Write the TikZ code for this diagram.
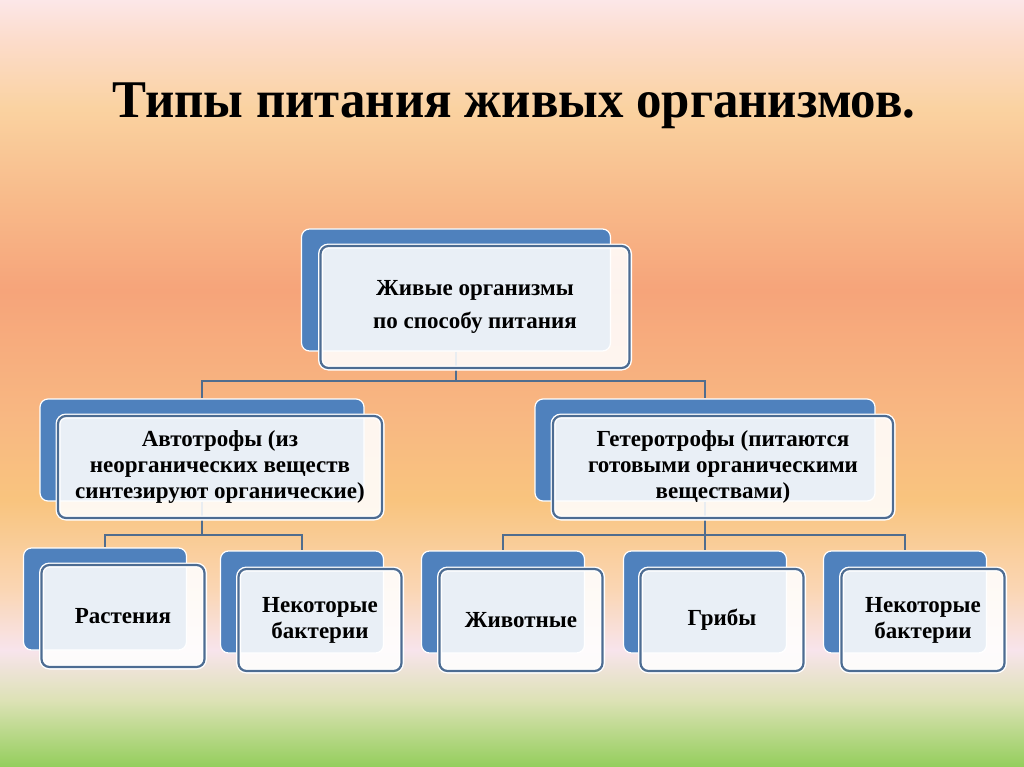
\documentclass[tikz,border=0pt]{standalone}
\usepackage{fontspec}
\setmainfont{Liberation Serif}
\newfontfamily\titlefont{Liberation Serif}[FakeStretch=0.96]
\usetikzlibrary{calc}

\definecolor{bgpink}{HTML}{FCE7E8}
\definecolor{bgrose}{HTML}{FCDCCB}
\definecolor{bgsand}{HTML}{FAD2A0}
\definecolor{bgpeach}{HTML}{F8BA8A}
\definecolor{bgsalmon}{HTML}{F6A47A}
\definecolor{bgapricot}{HTML}{F8B882}
\definecolor{bgamber}{HTML}{F9C47E}
\definecolor{bgcream}{HTML}{FAD6B4}
\definecolor{bglilac}{HTML}{F8E4EC}
\definecolor{bglime}{HTML}{DDE2B6}
\definecolor{bggreen}{HTML}{94CE5C}
\definecolor{boxblue}{HTML}{4F81BD}
\definecolor{boxframe}{HTML}{4D6C92}
\definecolor{wire}{HTML}{506D8E}

\pgfdeclareverticalshading{slidebg}{100bp}{%
  color(0bp)=(bggreen); color(25bp)=(bggreen); color(29.37bp)=(bglime);
  color(32.63bp)=(bglilac); color(36.54bp)=(bgcream); color(42.41bp)=(bgamber);
  color(47.62bp)=(bgapricot); color(56.09bp)=(bgsalmon); color(61.96bp)=(bgpeach);
  color(67.83bp)=(bgsand); color(72.39bp)=(bgrose); color(75bp)=(bgpink);
  color(100bp)=(bgpink)}

\tikzset{
  backbox/.style={draw=white, line width=1.2pt, fill=boxblue, rounded corners=8pt, inner sep=0pt},
  frontbox/.style={draw=boxframe, line width=2.2pt, fill=white, fill opacity=0.88, text opacity=1,
    rounded corners=8pt, inner sep=0pt, align=center, font=\fontsize{23}{26}\selectfont\bfseries,
    preaction={draw=white, line width=5pt, fill opacity=1}},
  rootsize/.style={minimum width=309pt, minimum height=122pt},
  midsize/.style={minimum width=#1, minimum height=102pt},
  leafsize/.style={minimum width=163pt, minimum height=102pt},
  wireline/.style={draw=wire, line width=2pt}
}

\begin{document}
\begin{tikzpicture}[x=1pt, y=-1pt]

  %Background
  \shade [shading=slidebg] (0,0) rectangle (1024,767);
  \useasboundingbox (0,0) rectangle (1024,767);

  %Back boxes
  \node [backbox, rootsize]     (root)   at (456,290)   {};
  \node [backbox, midsize=324pt] (auto)   at (202,450)   {};
  \node [backbox, midsize=340pt] (hetero) at (705,450)   {};
  \node [backbox, leafsize]     (plants) at (105,599)   {};
  \node [backbox, leafsize]     (bactA)  at (302,602)   {};
  \node [backbox, leafsize]     (animals) at (503,602)  {};
  \node [backbox, leafsize]     (fungi)  at (705,602)   {};
  \node [backbox, leafsize]     (bactB)  at (905,602)   {};

  %Connectors
  \coordinate (busA) at (456,381);
  \coordinate (busB) at (202,535);
  \coordinate (busC) at (705,535);
  \draw [wireline] (root.south) -- (busA) -| (auto.north);
  \draw [wireline] (busA) -| (hetero.north);
  \draw [wireline] (auto.south) -- (busB) -| (plants.north);
  \draw [wireline] (busB) -| (bactA.north);
  \draw [wireline] (hetero.south) -- (busC) -| (animals.north);
  \draw [wireline] (busC) -| (bactB.north);
  \draw [wireline] (busC) -- (fungi.north);

  %Front boxes
  \node [frontbox, rootsize, font=\fontsize{23}{33}\selectfont\bfseries] (rootf) at (475,307)
    {Живые организмы\\по способу питания};
  \node [frontbox, midsize=324pt] (autof) at (220,467)
    {Автотрофы (из\\неорганических веществ\\синтезируют органические)};
  \node [frontbox, midsize=340pt] (heterof) at (723,467)
    {Гетеротрофы (питаются\\готовыми органическими\\веществами)};
  \node [frontbox, leafsize] (plantsf)  at (123,616) {Растения};
  \node [frontbox, leafsize] (bactAf)   at (320,620) {Некоторые\\бактерии};
  \node [frontbox, leafsize] (animalsf) at (521,620) {Животные};
  \node [frontbox, leafsize] (fungif)   at (722,620) {Грибы};
  \node [frontbox, leafsize] (bactBf)   at (923,620) {Некоторые\\бактерии};

  %Title
  \node [anchor=base, font=\titlefont\fontsize{53}{60}\selectfont\bfseries] (title) at (514,118)
    {Типы питания живых организмов.};

\end{tikzpicture}
\end{document}
